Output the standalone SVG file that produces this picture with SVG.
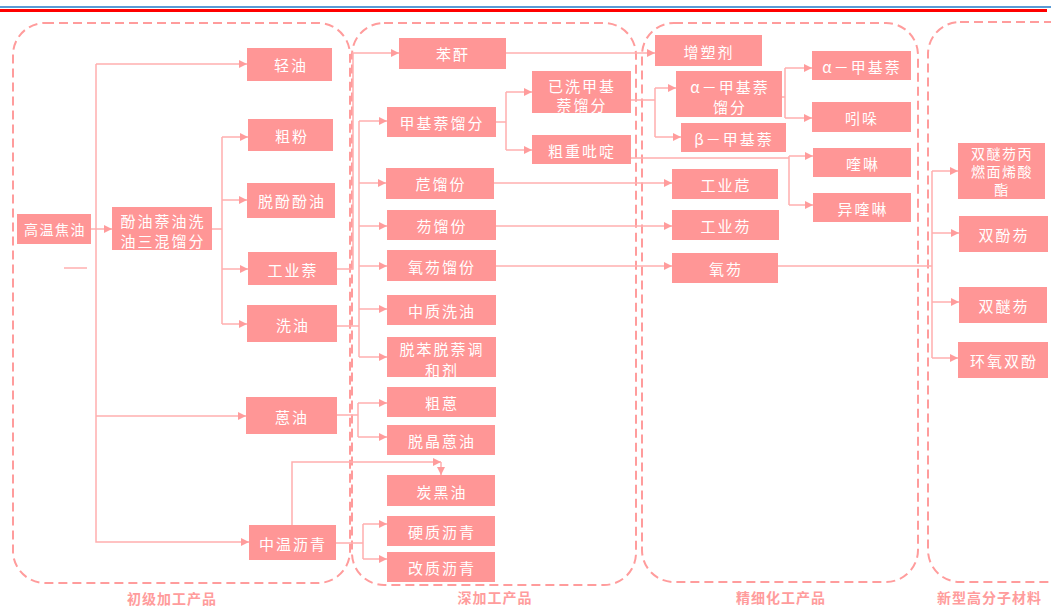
<svg xmlns="http://www.w3.org/2000/svg" width="1051" height="608" viewBox="0 0 1051 608">
<style>
.n{fill:#FF9696;}
.t{fill:#ffffff;font-family:"Noto Sans CJK SC","Noto Sans",sans-serif;font-size:15px;letter-spacing:2px;text-anchor:middle;dominant-baseline:central;}
.s{font-size:14px;letter-spacing:1.5px;}
.g{fill:none;stroke:#FF9C9C;stroke-width:2;stroke-dasharray:9 5;}
.gl{fill:#FF9C9C;font-family:"Noto Sans CJK SC","Noto Sans",sans-serif;font-size:14px;font-weight:bold;letter-spacing:1px;}
.c{fill:none;stroke:#FFAFAF;stroke-width:1.5;}
.a{fill:none;stroke:#FFAFAF;stroke-width:1.5;marker-end:url(#ah);}
</style>
<defs>
<marker id="ah" viewBox="0 0 10 10" refX="10" refY="5" markerWidth="8" markerHeight="8" orient="auto" markerUnits="userSpaceOnUse">
<path d="M0,0 L10,5 L0,10 z" fill="#FF9C9C"/>
</marker>
</defs>
<rect width="1051" height="608" fill="#ffffff"/>
<line x1="0" y1="7" x2="1051" y2="7" stroke="#5B9BD5" stroke-width="2"/>
<line x1="0" y1="10.5" x2="1047" y2="10.5" stroke="#FF0000" stroke-width="3"/>

<g id="groups">
<rect class="g" x="13" y="23" width="337" height="560" rx="32"/>
<rect class="g" x="352" y="23" width="284" height="562" rx="32"/>
<rect class="g" x="642" y="23" width="276" height="559" rx="32"/>
<rect class="g" x="928" y="22" width="160" height="560" rx="32"/>
<text class="gl" x="172" y="598" text-anchor="middle" dominant-baseline="central">初级加工产品</text>
<text class="gl" x="495" y="597" text-anchor="middle" dominant-baseline="central">深加工产品</text>
<text class="gl" x="781" y="597" text-anchor="middle" dominant-baseline="central">精细化工产品</text>
<text class="gl" x="937" y="597" dominant-baseline="central">新型高分子材料</text>
</g>

<g id="connectors">
<line x1="64" y1="268" x2="87" y2="268" stroke="#FFAFAF" stroke-width="1.5"/>
<path class="a" d="M91,229 H112"/>
<path class="a" d="M96,64 H247"/>
<path class="a" d="M96,64 V542 H249"/>
<path class="a" d="M96,416 H246"/>
<path class="c" d="M212,229 H222 M222,137 V324"/>
<path class="a" d="M222,137 H248"/>
<path class="a" d="M222,200 H247"/>
<path class="a" d="M222,269 H248"/>
<path class="a" d="M222,324 H247"/>
<path class="a" d="M337,269 H353 V53 H399"/>
<path class="c" d="M337,326 H359 M359,121 V357"/>
<path class="a" d="M359,121 H387"/>
<path class="a" d="M359,183 H386"/>
<path class="a" d="M359,226 H387"/>
<path class="a" d="M359,266 H387"/>
<path class="a" d="M359,309 H387"/>
<path class="a" d="M359,357 H387"/>
<path class="c" d="M337,415 H358 M358,403 V437"/>
<path class="a" d="M358,403 H387"/>
<path class="a" d="M358,437 H387"/>
<path class="a" d="M292,525 V462 H441"/>
<path class="a" d="M441,462 V475"/>
<path class="c" d="M336,543 H363 M363,524 V559"/>
<path class="a" d="M363,524 H387"/>
<path class="a" d="M363,559 H387"/>
<path class="a" d="M506,53 H655"/>
<path class="c" d="M496,122 H506 M506,92 V150"/>
<path class="a" d="M506,92 H532"/>
<path class="a" d="M506,150 H532"/>
<path class="c" d="M631,100 H655 M655,88 V137"/>
<path class="a" d="M655,88 H676"/>
<path class="a" d="M655,137 H681"/>
<path class="c" d="M631,158 H789 M789,156 V205"/>
<path class="a" d="M789,156 H813"/>
<path class="a" d="M789,205 H813"/>
<path class="c" d="M782,97 H785 M785,68 V118"/>
<path class="a" d="M785,68 H812"/>
<path class="a" d="M785,118 H812"/>
<path class="a" d="M494,183 H672"/>
<path class="a" d="M496,226 H672"/>
<path class="a" d="M496,266 H672"/>
<path class="c" d="M778,266 H932 M932,171 V358"/>
<path class="a" d="M932,171 H958"/>
<path class="a" d="M932,233 H959"/>
<path class="a" d="M932,302 H959"/>
<path class="a" d="M932,358 H958"/>
</g>

<g id="n-gaowenjiaoyou"><rect class="n" x="17" y="214" width="74" height="30"/><text class="t s" x="55" y="229">高温焦油</text></g>
<g id="n-sanhun"><rect class="n" x="112" y="207" width="100" height="43"/><text class="t" x="163" y="220">酚油萘油洗</text><text class="t" x="163" y="240">油三混馏分</text></g>
<g id="n-qingyou"><rect class="n" x="247" y="48" width="85" height="33"/><text class="t" x="291" y="64">轻油</text></g>
<g id="n-cufen"><rect class="n" x="248" y="119" width="85" height="32"/><text class="t" x="292" y="135">粗粉</text></g>
<g id="n-tuofen"><rect class="n" x="247" y="183" width="88" height="35"/><text class="t" x="292" y="200">脱酚酚油</text></g>
<g id="n-gongyenai"><rect class="n" x="248" y="252" width="89" height="33"/><text class="t" x="293" y="269">工业萘</text></g>
<g id="n-xiyou"><rect class="n" x="247" y="305" width="90" height="37"/><text class="t" x="293" y="324">洗油</text></g>
<g id="n-enyou"><rect class="n" x="246" y="397" width="91" height="37"/><text class="t" x="292" y="416">蒽油</text></g>
<g id="n-zhongwen"><rect class="n" x="249" y="525" width="87" height="35"/><text class="t" x="293" y="543">中温沥青</text></g>

<g id="n-bengan"><rect class="n" x="399" y="38" width="107" height="31"/><text class="t" x="453" y="53">苯酐</text></g>
<g id="n-jiajinai"><rect class="n" x="387" y="107" width="109" height="30"/><text class="t" x="442" y="122">甲基萘馏分</text></g>
<g id="n-yixi"><rect class="n" x="532" y="71" width="99" height="42"/><text class="t" x="582" y="85">已洗甲基</text><text class="t" x="582" y="104">萘馏分</text></g>
<g id="n-cuzhong"><rect class="n" x="532" y="135" width="99" height="29"/><text class="t" x="582" y="150">粗重吡啶</text></g>
<g id="n-ai"><rect class="n" x="386" y="168" width="108" height="31"/><text class="t" x="441" y="183">苊馏份</text></g>
<g id="n-fu"><rect class="n" x="387" y="210" width="109" height="30"/><text class="t" x="442" y="225">芴馏份</text></g>
<g id="n-yangfu"><rect class="n" x="387" y="250" width="109" height="31"/><text class="t" x="442" y="266">氧芴馏份</text></g>
<g id="n-zhongzhi"><rect class="n" x="387" y="295" width="109" height="30"/><text class="t" x="442" y="310">中质洗油</text></g>
<g id="n-tiaohe"><rect class="n" x="387" y="337" width="109" height="40"/><text class="t" x="442" y="348">脱苯脱萘调</text><text class="t" x="442" y="369">和剂</text></g>
<g id="n-cuen"><rect class="n" x="387" y="387" width="109" height="30"/><text class="t" x="442" y="402">粗蒽</text></g>
<g id="n-tuojing"><rect class="n" x="387" y="425" width="108" height="30"/><text class="t" x="442" y="440">脱晶蒽油</text></g>
<g id="n-tanhei"><rect class="n" x="387" y="475" width="108" height="31"/><text class="t" x="442" y="491">炭黑油</text></g>
<g id="n-yingzhi"><rect class="n" x="387" y="516" width="108" height="30"/><text class="t" x="442" y="531">硬质沥青</text></g>
<g id="n-gaizhi"><rect class="n" x="387" y="552" width="108" height="30"/><text class="t" x="442" y="567">改质沥青</text></g>

<g id="n-zengsu"><rect class="n" x="655" y="35" width="107" height="31"/><text class="t" x="709" y="51">增塑剂</text></g>
<g id="n-ajjnlf"><rect class="n" x="676" y="71" width="106" height="46"/><text class="t" x="730" y="86">α－甲基萘</text><text class="t" x="730" y="106">馏分</text></g>
<g id="n-bjjn"><rect class="n" x="681" y="123" width="105" height="29"/><text class="t" x="734" y="138">β－甲基萘</text></g>
<g id="n-gyai"><rect class="n" x="672" y="169" width="106" height="30"/><text class="t" x="726" y="184">工业苊</text></g>
<g id="n-gyfu"><rect class="n" x="672" y="210" width="107" height="30"/><text class="t" x="726" y="225">工业芴</text></g>
<g id="n-yf"><rect class="n" x="672" y="253" width="106" height="30"/><text class="t" x="726" y="268">氧芴</text></g>
<g id="n-ajjn"><rect class="n" x="812" y="51" width="99" height="29"/><text class="t" x="862" y="66">α－甲基萘</text></g>
<g id="n-yinduo"><rect class="n" x="812" y="102" width="99" height="30"/><text class="t" x="862" y="117">吲哚</text></g>
<g id="n-kuilin"><rect class="n" x="813" y="148" width="98" height="29"/><text class="t" x="863" y="163">喹啉</text></g>
<g id="n-yikuilin"><rect class="n" x="813" y="193" width="98" height="29"/><text class="t" x="863" y="208">异喹啉</text></g>

<g id="n-sm1"><rect class="n" x="958" y="143" width="87" height="56"/><text class="t s" x="1002" y="153">双醚芴丙</text><text class="t s" x="1002" y="171">燃面烯酸</text><text class="t s" x="1002" y="189">酯</text></g>
<g id="n-sff"><rect class="n" x="959" y="216" width="89" height="36"/><text class="t" x="1004" y="234">双酚芴</text></g>
<g id="n-smf"><rect class="n" x="959" y="287" width="88" height="36"/><text class="t" x="1004" y="305">双醚芴</text></g>
<g id="n-hysf"><rect class="n" x="958" y="342" width="90" height="36"/><text class="t" x="1004" y="360">环氧双酚</text></g>
</svg>
